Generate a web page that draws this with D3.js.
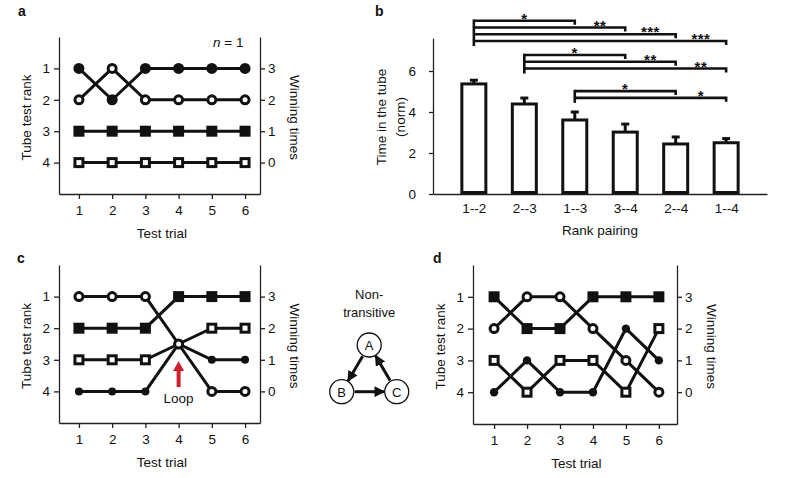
<!DOCTYPE html>
<html>
<head>
<meta charset="utf-8">
<script src="https://cdn.jsdelivr.net/npm/d3@7"></script>
<style>
body { margin: 0; background: #fff; }
text { font-family: "Liberation Sans", Arial, Helvetica, sans-serif; fill: #111; }
</style>
</head>
<body>
<svg width="785" height="478"></svg>
<script>
// Shared tick values for the rank panels
const trials = [1, 2, 3, 4, 5, 6];
const rankTicks = [1, 2, 3, 4];
const winTicks = [3, 2, 1, 0];

// Panel a: rank of each animal across 6 trials
const aFilledCircle = [1, 2, 1, 1, 1, 1];
const aOpenCircle = [2, 1, 2, 2, 2, 2];
const aFilledSquare = [3, 3, 3, 3, 3, 3];
const aOpenSquare = [4, 4, 4, 4, 4, 4];

// Panel c: loop at trial 4 (three animals share rank 2.5)
const cOpenCircle = [1, 1, 1, 2.5, 4, 4];
const cFilledSquare = [2, 2, 2, 1, 1, 1];
const cOpenSquare = [3, 3, 3, 2.5, 2, 2];
const cFilledCircle = [4, 4, 4, 2.5, 3, 3];
const loopTrial = 4;
const loopRank = 2.5;

// Panel d
const dFilledSquare = [1, 2, 2, 1, 1, 1];
const dOpenCircle = [2, 1, 1, 2, 3, 4];
const dOpenSquare = [3, 4, 3, 3, 4, 2];
const dFilledCircle = [4, 3, 4, 4, 2, 3];

// Panel b: time in the tube per rank pairing
const pairs = ["1--2", "2--3", "1--3", "3--4", "2--4", "1--4"];
const meanTime = [5.37, 4.39, 3.61, 3.02, 2.44, 2.5];
const semTime = [0.23, 0.34, 0.44, 0.44, 0.39, 0.25];
const bTicks = [0, 2, 4, 6];

// Significance brackets, one group per reference pairing
const sigFrom = ["1--2", "2--3", "1--3"];
const sigTo = [["1--3", "3--4", "2--4", "1--4"], ["3--4", "2--4", "1--4"], ["2--4", "1--4"]];
const sigStars = [["*", "**", "***", "***"], ["*", "**", "**"], ["*", "*"]];
const sigLevel = [8.45, 6.78, 5.02];   // top line of each group, in y units
const sigStep = 0.33;

// Non-transitive diagram
const nodes = ["A", "B", "C"];
const nodeCol = [1, 0, 2];
const nodeRow = [0, 1, 1];
const edges = [["A", "B"], ["B", "C"], ["C", "A"]];

const svg = d3.select("svg");
const ink = "#111";

svg.append("defs").append("marker")
    .attr("id", "head")
    .attr("viewBox", "0 0 10 10")
    .attr("refX", 9).attr("refY", 5)
    .attr("markerWidth", 3.6).attr("markerHeight", 3.6)
    .attr("markerUnits", "strokeWidth")
    .attr("orient", "auto")
    .append("path").attr("d", "M0,0L10,5L0,10Z").attr("fill", ink);

function styleAxis(g) {
    g.attr("font-size", 13.5).attr("font-family", "Liberation Sans, Arial, sans-serif");
    g.selectAll(".domain, .tick line").attr("stroke", "#222").attr("stroke-width", 1.3);
    g.selectAll("text").attr("fill", ink);
}

function panelLetter(x, y, s) {
    svg.append("text").attr("x", x).attr("y", y)
        .attr("font-size", 14).attr("font-weight", "bold").text(s);
}

// Draw one rank-vs-trial panel
function rankPanel(opt) {
    const g = svg.append("g");
    const x = d3.scaleLinear().domain(opt.xDomain).range([opt.left, opt.right]);
    const y = d3.scaleLinear().domain([0, 5]).range([opt.top, opt.bottom]);
    const fmt = d3.format("d");

    g.append("g").attr("transform", `translate(0,${opt.bottom})`)
        .call(d3.axisBottom(x).tickValues(trials).tickFormat(fmt).tickSize(5).tickSizeOuter(0).tickPadding(6))
        .call(styleAxis);
    g.append("g").attr("transform", `translate(${opt.left},0)`)
        .call(d3.axisLeft(y).tickValues(rankTicks).tickFormat(fmt).tickSize(5).tickSizeOuter(0).tickPadding(4))
        .call(styleAxis);
    g.append("g").attr("transform", `translate(${opt.right},0)`)
        .call(d3.axisRight(y).tickValues(rankTicks).tickFormat((d, i) => winTicks[i])
            .tickSize(5).tickSizeOuter(0).tickPadding(3))
        .call(styleAxis);

    const midY = (opt.top + opt.bottom) / 2 + 2;
    g.append("text").attr("transform", `translate(${opt.left - 28},${midY}) rotate(-90)`)
        .attr("text-anchor", "middle").attr("font-size", 13.5).text("Tube test rank");
    g.append("text").attr("transform", `translate(${opt.right + 30},${midY}) rotate(90)`)
        .attr("text-anchor", "middle").attr("font-size", 13.5).text("Winning times");
    g.append("text").attr("x", x(3.5)).attr("y", opt.bottom + 44)
        .attr("text-anchor", "middle").attr("font-size", 13.5).text("Test trial");

    const line = d3.line().x((d, i) => x(trials[i])).y(d => y(d));
    opt.series.forEach(s => {
        g.append("path").attr("d", line(s.values))
            .attr("fill", "none").attr("stroke", ink).attr("stroke-width", 3);
    });

    opt.series.forEach(s => {
        s.values.forEach((v, i) => {
            // at the loop point only the open circle is drawn
            if (opt.loopAt === trials[i] && v === opt.loopRank && s.kind !== "openCircle") return;
            const cx = x(trials[i]), cy = y(v);
            if (s.kind === "filledCircle") {
                g.append("circle").attr("cx", cx).attr("cy", cy).attr("r", opt.dotR).attr("fill", ink);
            } else if (s.kind === "openCircle") {
                g.append("circle").attr("cx", cx).attr("cy", cy).attr("r", 4)
                    .attr("fill", "#fff").attr("stroke", ink).attr("stroke-width", 3);
            } else if (s.kind === "filledSquare") {
                g.append("rect").attr("x", cx - 5.5).attr("y", cy - 5.5).attr("width", 11).attr("height", 11)
                    .attr("fill", ink);
            } else {
                g.append("rect").attr("x", cx - 4).attr("y", cy - 4).attr("width", 8).attr("height", 8)
                    .attr("fill", "#fff").attr("stroke", ink).attr("stroke-width", 3);
            }
        });
    });
    return { x, y, g };
}

// ---- Panel a
const pa = rankPanel({
    left: 59, right: 260, top: 37, bottom: 194, xDomain: [0.4, 6.45], dotR: 5.5,
    series: [
        { kind: "filledCircle", values: aFilledCircle },
        { kind: "openCircle", values: aOpenCircle },
        { kind: "filledSquare", values: aFilledSquare },
        { kind: "openSquare", values: aOpenSquare }
    ]
});
pa.g.append("text").attr("x", 213).attr("y", 47).attr("font-size", 13.5)
    .call(t => {
        t.append("tspan").attr("font-style", "italic").text("n");
        t.append("tspan").text(" = 1");
    });
panelLetter(18, 16, "a");

// ---- Panel c
const pc = rankPanel({
    left: 59, right: 260, top: 265, bottom: 423, xDomain: [0.4, 6.45], dotR: 4,
    loopAt: loopTrial, loopRank: loopRank,
    series: [
        { kind: "filledSquare", values: cFilledSquare },
        { kind: "openSquare", values: cOpenSquare },
        { kind: "filledCircle", values: cFilledCircle },
        { kind: "openCircle", values: cOpenCircle }
    ]
});
{
    const lx = pc.x(loopTrial), ly = pc.y(loopRank);
    const red = "#d0202e";
    pc.g.append("rect").attr("x", lx - 2).attr("y", ly + 25).attr("width", 4).attr("height", 18).attr("fill", red);
    pc.g.append("path").attr("d", `M${lx},${ly + 17}L${lx + 5.5},${ly + 27}L${lx - 5.5},${ly + 27}Z`).attr("fill", red);
    pc.g.append("text").attr("x", lx).attr("y", ly + 59).attr("text-anchor", "middle")
        .attr("font-size", 13.5).text("Loop");
}
panelLetter(17, 263, "c");

// ---- Panel d
rankPanel({
    left: 473, right: 677, top: 265, bottom: 424, xDomain: [0.36, 6.55], dotR: 4.2,
    series: [
        { kind: "filledSquare", values: dFilledSquare },
        { kind: "openCircle", values: dOpenCircle },
        { kind: "openSquare", values: dOpenSquare },
        { kind: "filledCircle", values: dFilledCircle }
    ]
});
panelLetter(433, 263, "d");

// ---- Panel b
{
    const g = svg.append("g");
    const x = d3.scalePoint().domain(pairs).range([433, 767]).padding(0.81);
    const y = d3.scaleLinear().domain([0, 7.6]).range([194, 38.2]);

    g.append("g").attr("transform", "translate(433,0)")
        .call(d3.axisLeft(y).tickValues(bTicks).tickSize(4).tickSizeOuter(0).tickPadding(13))
        .call(styleAxis);
    g.append("g").attr("transform", "translate(0,194)")
        .call(d3.axisBottom(x).tickSize(0).tickPadding(9))
        .call(styleAxis);

    const bw = 24;
    pairs.forEach((p, i) => {
        const cx = x(p);
        const top = y(meanTime[i] + semTime[i]);
        g.append("line").attr("x1", cx).attr("x2", cx).attr("y1", y(meanTime[i]))
            .attr("y2", top).attr("stroke", ink).attr("stroke-width", 3);
        g.append("line").attr("x1", cx - 4).attr("x2", cx + 4)
            .attr("y1", top + 1).attr("y2", top + 1)
            .attr("stroke", ink).attr("stroke-width", 3);
        g.append("rect").attr("x", cx - bw / 2).attr("y", y(meanTime[i]))
            .attr("width", bw).attr("height", y(0) - y(meanTime[i]) - 1.5)
            .attr("fill", "#fff").attr("stroke", ink).attr("stroke-width", 3);
    });

    sigFrom.forEach((from, gi) => {
        const x0 = x(from);
        const levels = sigTo[gi].map((t, j) => y(sigLevel[gi] - j * sigStep));
        g.append("line").attr("x1", x0).attr("x2", x0)
            .attr("y1", levels[0] - 1.3).attr("y2", levels[levels.length - 1] + 5)
            .attr("stroke", ink).attr("stroke-width", 2.6);
        sigTo[gi].forEach((to, j) => {
            const x1 = x(to), ly = levels[j];
            g.append("path").attr("d", `M${x0},${ly}H${x1}V${ly + 4}`)
                .attr("fill", "none").attr("stroke", ink).attr("stroke-width", 2.6);
            const prev = j === 0 ? x0 : x(sigTo[gi][j - 1]);
            g.append("text").attr("x", (prev + x1) / 2).attr("y", ly + 3)
                .attr("text-anchor", "middle").attr("font-size", 15).attr("font-weight", "bold")
                .attr("letter-spacing", 0.5).text(sigStars[gi][j]);
        });
    });

    g.append("text").attr("transform", "translate(386,117) rotate(-90)")
        .attr("text-anchor", "middle").attr("font-size", 13.5).text("Time in the tube");
    g.append("text").attr("transform", "translate(405,117) rotate(-90)")
        .attr("text-anchor", "middle").attr("font-size", 13.5).text("(norm)");
    g.append("text").attr("x", 600).attr("y", 235)
        .attr("text-anchor", "middle").attr("font-size", 13.5).text("Rank pairing");
}
panelLetter(375, 16, "b");

// ---- Non-transitive diagram
{
    const g = svg.append("g");
    const nx = d3.scaleLinear().domain([0, 2]).range([341.7, 396.7]);
    const ny = d3.scaleLinear().domain([0, 1]).range([345, 391.7]);
    const r = 12;
    const pos = {};
    nodes.forEach((n, i) => { pos[n] = [nx(nodeCol[i]), ny(nodeRow[i])]; });

    g.append("text").attr("x", nx(1)).attr("y", 299).attr("text-anchor", "middle")
        .attr("font-size", 13).text("Non-");
    g.append("text").attr("x", nx(1)).attr("y", 317).attr("text-anchor", "middle")
        .attr("font-size", 13).text("transitive");

    edges.forEach(([a, b]) => {
        const [x1, y1] = pos[a], [x2, y2] = pos[b];
        const dx = x2 - x1, dy = y2 - y1, len = Math.hypot(dx, dy);
        const ux = dx / len, uy = dy / len;
        g.append("line")
            .attr("x1", x1 + ux * (r + 1)).attr("y1", y1 + uy * (r + 1))
            .attr("x2", x2 - ux * (r + 0.5)).attr("y2", y2 - uy * (r + 0.5))
            .attr("stroke", ink).attr("stroke-width", 3).attr("marker-end", "url(#head)");
    });
    nodes.forEach(n => {
        g.append("circle").attr("cx", pos[n][0]).attr("cy", pos[n][1]).attr("r", r)
            .attr("fill", "#fff").attr("stroke", ink).attr("stroke-width", 1.3);
        g.append("text").attr("x", pos[n][0]).attr("y", pos[n][1] + 4.8)
            .attr("text-anchor", "middle").attr("font-size", 13).text(n);
    });
}
</script>
</body>
</html>
